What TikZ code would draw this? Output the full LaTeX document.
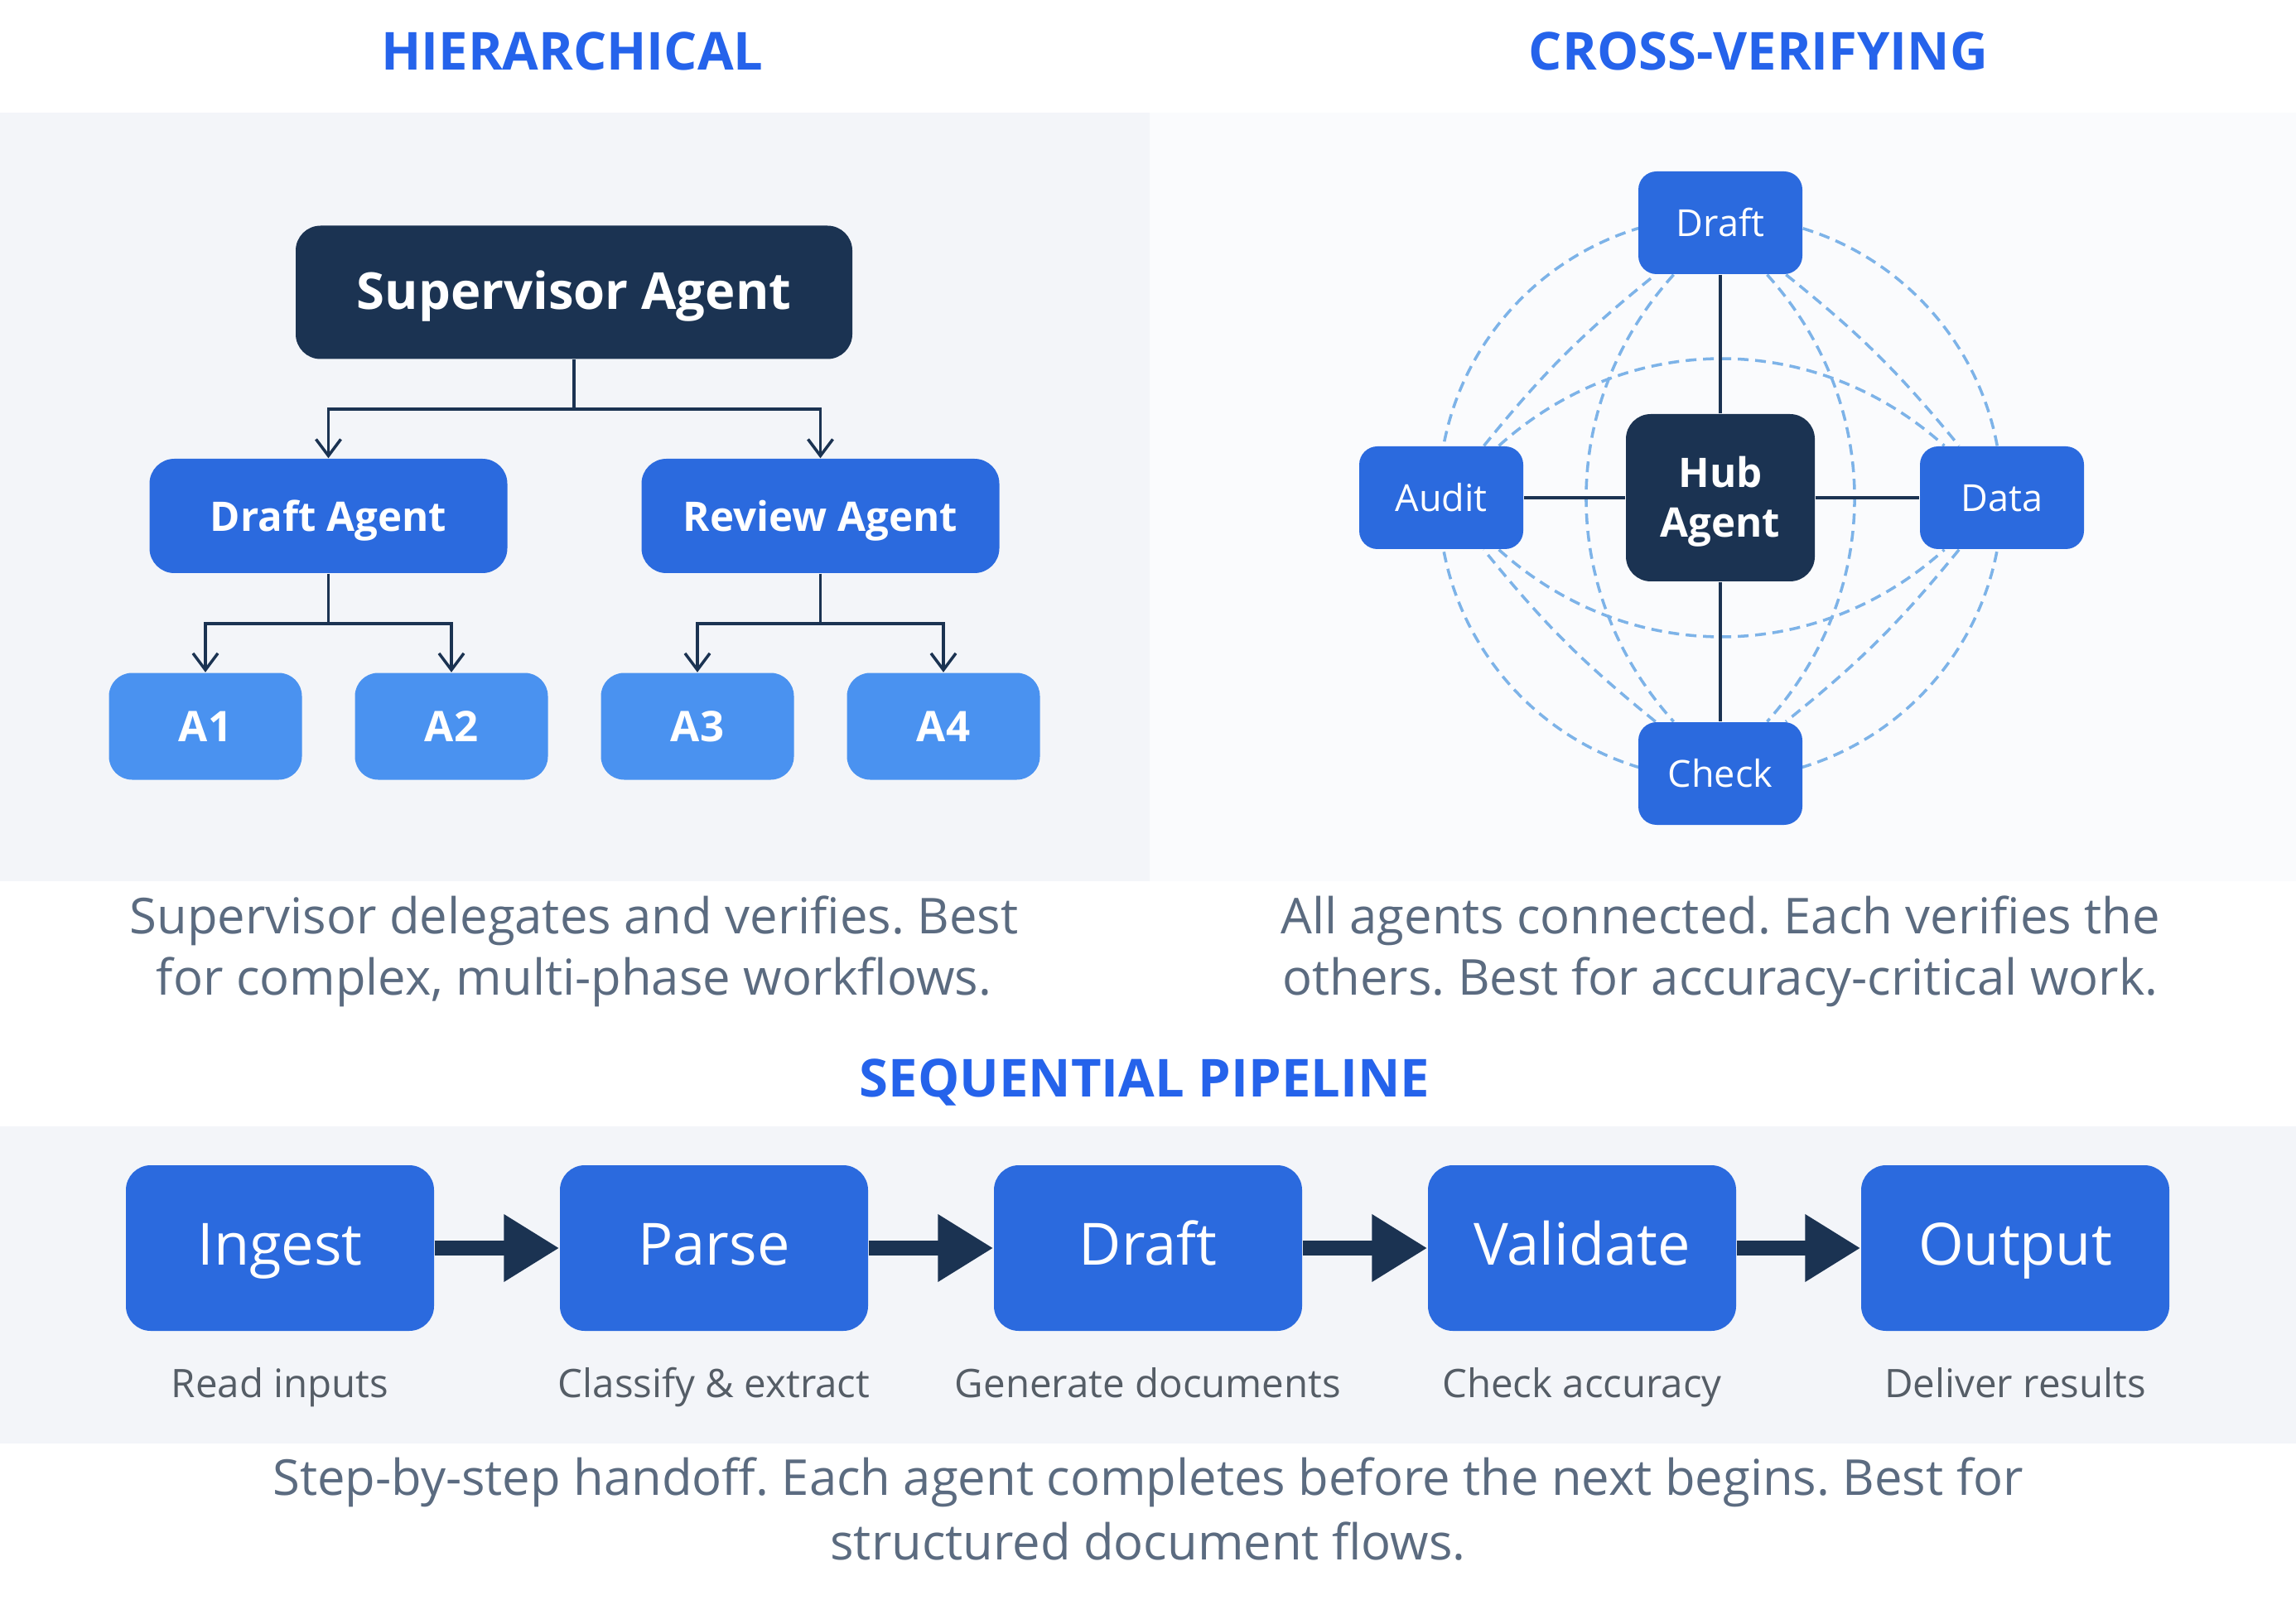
\documentclass[tikz,border=0pt]{standalone}
\usepackage{fontspec}
\setmainfont{Open Sans}
\usepackage{tikz}
\usetikzlibrary{arrows.meta,positioning,backgrounds}

\definecolor{navy}{HTML}{1B3352}
\definecolor{titleblue}{HTML}{2563EB}
\definecolor{midblue}{HTML}{2B6ADE}
\definecolor{leafblue}{HTML}{4A92F0}
\definecolor{dashblue}{HTML}{7DB3E8}
\definecolor{capgray}{HTML}{5B6B80}
\definecolor{notegray}{HTML}{555D66}
\definecolor{panel}{HTML}{F3F5F9}
\definecolor{panelright}{HTML}{FAFBFD}

\frenchspacing
\begin{document}
\begin{tikzpicture}[
  title/.style={font=\fontsize{18}{22}\selectfont\bfseries,text=titleblue},
  caption/.style={font=\fontsize{17}{21}\selectfont,text=capgray,align=center},
  supbox/.style={fill=navy,text=white,rounded corners=0.3cm,
                 minimum width=6.72cm,minimum height=1.61cm,
                 text height=1.15em,text depth=0pt,
                 font=\fontsize{17.5}{20}\selectfont\bfseries},
  agentbox/.style={fill=midblue,text=white,rounded corners=0.3cm,
                   minimum width=4.32cm,minimum height=1.38cm,
                   text height=1.08em,text depth=0pt,
                   font=\fontsize{14}{17}\selectfont\bfseries},
  leafbox/.style={fill=leafblue,text=white,rounded corners=0.28cm,
                  minimum width=2.33cm,minimum height=1.29cm,
                  text height=1.05em,text depth=0pt,
                  font=\fontsize{14.5}{17}\selectfont\bfseries},
  hubbox/.style={fill=navy,text=white,rounded corners=0.3cm,align=center,
                 minimum width=2.28cm,minimum height=2.02cm,
                 text depth=0.05em,
                 font=\fontsize{14}{17}\selectfont\bfseries},
  spokebox/.style={fill=midblue,text=white,rounded corners=0.22cm,
                   minimum width=1.98cm,minimum height=1.24cm,
                   text height=0.95em,text depth=0pt,
                   font=\fontsize{12.8}{15}\selectfont},
  stagebox/.style={fill=midblue,text=white,rounded corners=0.3cm,
                   minimum width=3.72cm,minimum height=2.0cm,
                   text height=1.18em,text depth=0pt,
                   font=\fontsize{20}{24}\selectfont},
  stagenote/.style={text=notegray,text height=0.95em,text depth=0pt,
                    font=\fontsize{13.5}{16}\selectfont},
  tree/.style={draw=navy,line width=1pt},
  treearr/.style={tree,-{Straight Barb[length=2mm,width=3mm]}},
  spoke/.style={draw=navy,line width=1pt},
  link/.style={draw=dashblue,line width=1pt,dash pattern=on 1.3mm off 0.8mm},
  pipearr/.style={draw=navy,line width=1.8mm,
                  -{Triangle[length=6.7mm,width=7.7mm]}}
]

\useasboundingbox (0,0) rectangle (27.72,-19.38);

% Titles
\node[title] (thier)  at (6.91,-0.62)   {HIERARCHICAL};
\node[title] (tcross) at (21.23,-0.62)  {CROSS-VERIFYING};
\node[title] (tseq)   at (13.82,-13.07) {SEQUENTIAL PIPELINE};

% ---- Hierarchical ----
\node[supbox]   (sup)      at (6.93,-3.53)  {Supervisor Agent};
\node[agentbox] (draftag)  at (3.965,-6.23) {Draft Agent};
\node[agentbox] (reviewag) at (9.905,-6.23) {Review Agent};
\node[leafbox]  (a1) at (2.48,-8.77)  {A1};
\node[leafbox]  (a2) at (5.45,-8.77)  {A2};
\node[leafbox]  (a3) at (8.42,-8.77)  {A3};
\node[leafbox]  (a4) at (11.39,-8.77) {A4};

\coordinate (j0) at (6.93,-4.94);
\coordinate (j1) at (3.965,-7.53);
\coordinate (j2) at (9.905,-7.53);

\draw[tree] (sup) -- (j0);
\draw[treearr] (j0) -| (draftag);
\draw[treearr] (j0) -| (reviewag);
\draw[tree] (draftag) -- (j1);
\draw[treearr] (j1) -| (a1);
\draw[treearr] (j1) -| (a2);
\draw[tree] (reviewag) -- (j2);
\draw[treearr] (j2) -| (a3);
\draw[treearr] (j2) -| (a4);

\node[caption] (caphier) at (6.93,-11.49)
  {Supervisor delegates and verifies. Best\\for complex, multi-phase workflows.};

% ---- Cross-verifying ----
\node[hubbox]   (hub)    at (20.77,-6.01) {Hub\\Agent};
\node[spokebox] (cdraft) at (20.77,-2.69) {Draft};
\node[spokebox] (ccheck) at (20.77,-9.34) {Check};
\node[spokebox] (audit)  at (17.40,-6.01) {Audit};
\node[spokebox] (data)   at (24.17,-6.01) {Data};

\draw[spoke] (hub) -- (cdraft);
\draw[spoke] (hub) -- (ccheck);
\draw[spoke] (hub) -- (audit);
\draw[spoke] (hub) -- (data);

\node[caption] (capcross) at (20.77,-11.49)
  {All agents connected. Each verifies the\\others. Best for accuracy-critical work.};

% ---- Sequential pipeline ----
\node[stagebox] (ingest)   at (3.38,-15.07)  {Ingest};
\node[stagebox] (parse)    at (8.62,-15.07)  {Parse};
\node[stagebox] (sdraft)   at (13.86,-15.07) {Draft};
\node[stagebox] (validate) at (19.10,-15.07) {Validate};
\node[stagebox] (output)   at (24.33,-15.07) {Output};

\draw[pipearr] (ingest) -- (parse);
\draw[pipearr] (parse) -- (sdraft);
\draw[pipearr] (sdraft) -- (validate);
\draw[pipearr] (validate) -- (output);

\node[stagenote] (ningest)   at (3.38,-16.71)  {Read inputs};
\node[stagenote] (nparse)    at (8.62,-16.71)  {Classify \& extract};
\node[stagenote] (nsdraft)   at (13.86,-16.71) {Generate documents};
\node[stagenote] (nvalidate) at (19.10,-16.71) {Check accuracy};
\node[stagenote] (noutput)   at (24.33,-16.71) {Deliver results};

\node[caption,font=\fontsize{17}{22}\selectfont] (capseq) at (13.86,-18.22)
  {Step-by-step handoff. Each agent completes before the next begins. Best for\\structured document flows.};

% panels and peer links behind everything
\begin{scope}[on background layer]
  \fill[white]      (0,0) rectangle (27.72,-19.38);
  \fill[panel]      (0,-1.36) rectangle (13.88,-10.64);
  \fill[panelright] (13.88,-1.36) rectangle (27.72,-10.64);
  \fill[panel]      (0,-13.60) rectangle (27.72,-17.43);

  \draw[link] (hub.center) circle (3.40);
  \draw[link] (audit) to[bend left=42] (data);
  \draw[link] (audit) to[bend right=42] (data);
  \draw[link] (cdraft) to[bend right=42] (ccheck);
  \draw[link] (cdraft) to[bend left=42] (ccheck);
  \draw[link] (audit) to[bend left=6] (cdraft);
  \draw[link] (cdraft) to[bend left=6] (data);
  \draw[link] (data) to[bend left=6] (ccheck);
  \draw[link] (ccheck) to[bend left=6] (audit);
\end{scope}

\end{tikzpicture}
\end{document}
